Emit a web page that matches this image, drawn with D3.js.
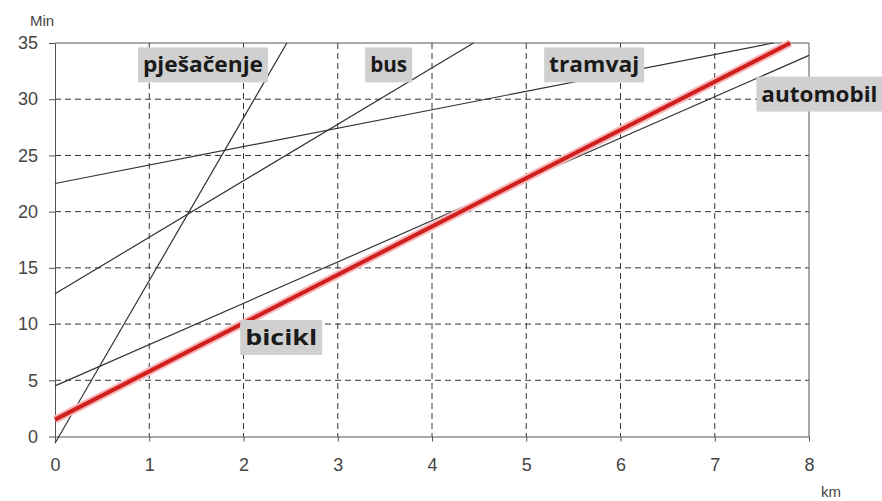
<!DOCTYPE html>
<html lang="hr">
<head>
<meta charset="utf-8">
<title>Vrijeme putovanja</title>
<script src="https://cdn.jsdelivr.net/npm/d3@7"></script>
<style>
  body { margin: 0; background: #fff; }
  .tick text { font-family: "Liberation Sans", Arial, sans-serif; font-size: 18px; fill: #444; }
  .tick line, .domain { stroke: #555; }
</style>
</head>
<body>
<svg width="882" height="501"></svg>
<script>
// vrijednosti ocitane sa slike: [km, min] za pocetak i kraj svake linije
var names = ["pješačenje", "bus", "tramvaj", "automobil", "bicikl"];
var startPts = [[0, -0.6], [0, 12.7], [0, 22.5], [0, 4.5], [0, 1.5]];
var endPts = [[2.46, 35], [4.44, 35], [7.62, 35], [8, 33.9], [7.8, 35]];
var xTicks = [0, 1, 2, 3, 4, 5, 6, 7, 8];
var yTicks = [0, 5, 10, 15, 20, 25, 30, 35];

// polozaj natpisa (sredina kutije) u km/min
var labelPos = {
  "pješačenje": [1.57, 33.1],
  "bus": [3.54, 33.1],
  "tramvaj": [5.72, 33.1],
  "automobil": [8.11, 30.5],
  "bicikl": [2.40, 8.85]
};
var labelWidth = { "pješačenje": 120, "bus": 37, "tramvaj": 90, "automobil": 116, "bicikl": 72 };

var svg = d3.select("svg");
var x = d3.scaleLinear().domain([0, 8]).range([55, 809]);
var y = d3.scaleLinear().domain([0, 35]).range([436.5, 43]);

// mreza
var grid = svg.append("g");
grid.selectAll("line.v")
  .data(xTicks.filter(function(d) { return d > 0 && d < 8; }))
  .enter().append("line")
  .attr("x1", function(d) { return x(d); }).attr("x2", function(d) { return x(d); })
  .attr("y1", y(35)).attr("y2", y(0))
  .attr("stroke", "#333").attr("stroke-dasharray", "6,4");
grid.selectAll("line.h")
  .data(yTicks.filter(function(d) { return d > 0 && d < 35; }))
  .enter().append("line")
  .attr("x1", x(0)).attr("x2", x(8))
  .attr("y1", function(d) { return y(d); }).attr("y2", function(d) { return y(d); })
  .attr("stroke", "#333").attr("stroke-dasharray", "6,4");

// okvir gore i desno
svg.append("line").attr("x1", x(0)).attr("x2", x(8)).attr("y1", y(35)).attr("y2", y(35)).attr("stroke", "#555");
svg.append("line").attr("x1", x(8)).attr("x2", x(8)).attr("y1", y(35)).attr("y2", y(0)).attr("stroke", "#555");

// osi
svg.append("g")
  .attr("transform", "translate(0," + y(0) + ")")
  .call(d3.axisBottom(x).tickValues(xTicks).tickSize(5).tickSizeOuter(0).tickPadding(17));
svg.append("g")
  .attr("transform", "translate(" + x(0) + ",0)")
  .call(d3.axisLeft(y).tickValues(yTicks).tickSize(6).tickSizeOuter(0).tickPadding(11));

svg.append("text").attr("x", 30).attr("y", 26)
  .attr("font-family", "Liberation Sans, Arial, sans-serif").attr("font-size", 15).attr("fill", "#444")
  .text("Min");
svg.append("text").attr("x", 821).attr("y", 497)
  .attr("font-family", "Liberation Sans, Arial, sans-serif").attr("font-size", 15).attr("fill", "#444")
  .text("km");

// linije
var line = d3.line().x(function(d) { return x(d[0]); }).y(function(d) { return y(d[1]); });
names.forEach(function(n, i) {
  var pts = [startPts[i], endPts[i]];
  if (n === "bicikl") {
    svg.append("path").attr("d", line(pts)).attr("stroke", "#f6b8b8").attr("stroke-width", 8).attr("fill", "none");
    svg.append("path").attr("d", line(pts)).attr("stroke", "#d11f1f").attr("stroke-width", 4).attr("fill", "none");
  } else {
    svg.append("path").attr("d", line(pts)).attr("stroke", "#333").attr("stroke-width", 1.2).attr("fill", "none");
  }
});

// natpisi
names.forEach(function(n) {
  var cx = x(labelPos[n][0]), cy = y(labelPos[n][1]);
  var w = labelWidth[n];
  var g = svg.append("g");
  g.append("rect")
    .attr("x", cx - w / 2 - 5).attr("y", cy - 17)
    .attr("width", w + 10).attr("height", 35)
    .attr("fill", "#d0d0d0");
  g.append("text")
    .attr("x", cx - w / 2).attr("y", cy + 8)
    .attr("textLength", w).attr("lengthAdjust", "spacingAndGlyphs")
    .attr("font-family", "Open Sans, sans-serif").attr("font-weight", "bold").attr("font-size", 22)
    .attr("fill", "#1a1a1a")
    .text(n);
});
</script>
</body>
</html>
